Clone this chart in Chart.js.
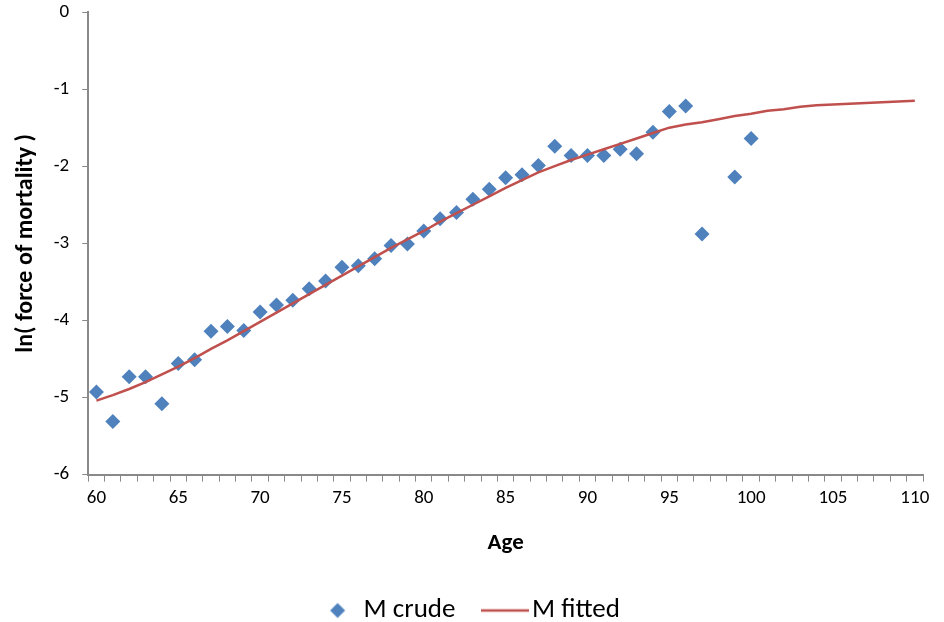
<!DOCTYPE html>
<html><head><meta charset="utf-8">
<script src="https://cdn.jsdelivr.net/npm/chart.js@4"></script>
<style>html,body{margin:0;padding:0;background:#fff}#wrap{width:944px;height:622px;position:relative}</style>
</head><body><div id="wrap"><canvas id="c"></canvas></div>
<script>
const ages = [60,61,62,63,64,65,66,67,68,69,70,71,72,73,74,75,76,77,78,79,80,81,82,83,84,85,86,87,88,89,90,91,92,93,94,95,96,97,98,99,100,101,102,103,104,105,106,107,108,109,110];
const crudeValues = [-4.93,-5.31,-4.73,-4.73,-5.08,-4.56,-4.51,-4.14,-4.08,-4.13,-3.89,-3.80,-3.74,-3.59,-3.49,-3.31,-3.29,-3.20,-3.03,-3.01,-2.84,-2.68,-2.60,-2.43,-2.30,-2.15,-2.11,-1.99,-1.74,-1.86,-1.86,-1.86,-1.78,-1.84,-1.56,-1.29,-1.22,-2.88,null,-2.14,-1.64,null,null,null,null,null,null,null,null,null,null];
const fittedValues = [-5.04,-4.97,-4.89,-4.80,-4.70,-4.60,-4.49,-4.37,-4.26,-4.14,-4.02,-3.90,-3.78,-3.66,-3.54,-3.42,-3.30,-3.18,-3.06,-2.95,-2.84,-2.72,-2.61,-2.50,-2.39,-2.28,-2.18,-2.08,-2.00,-1.92,-1.85,-1.78,-1.71,-1.64,-1.57,-1.50,-1.46,-1.43,-1.39,-1.35,-1.32,-1.28,-1.26,-1.23,-1.21,-1.20,-1.19,-1.18,-1.17,-1.16,-1.15];
const xTickLabels = ['60','65','70','75','80','85','90','95','100','105','110'];
const yTickLabels = ['-6','-5','-4','-3','-2','-1','0'];
const seriesNames = ['M crude','M fitted'];

const BLUE = '#4F81BD', RED = '#C0504D', AXIS = '#898989', TXT = '#000000';
const FONT = 'Carlito, Lato, "Liberation Sans", sans-serif';

const LEG_W = 59;      // legend box width
const IMG_W = 80;      // legend image width
function legendImg(kind){
  const c = document.createElement('canvas');
  c.width = IMG_W; c.height = 18;
  const g = c.getContext('2d');
  const off = IMG_W/2 - LEG_W/2;
  if (kind === 'diamond') {
    g.fillStyle = BLUE;
    const cx = off + LEG_W - 12.5, cy = 9, r = 7.5;
    g.beginPath(); g.moveTo(cx-r,cy); g.lineTo(cx,cy-r); g.lineTo(cx+r,cy); g.lineTo(cx,cy+r); g.closePath(); g.fill();
  } else {
    g.strokeStyle = RED; g.lineWidth = 2.5;
    g.beginPath(); g.moveTo(off + LEG_W - 37.5, 9); g.lineTo(off + LEG_W + 10.5, 9); g.stroke();
  }
  return c;
}
const legendImgs = [legendImg('diamond'), legendImg('line')];

new Chart(document.getElementById('c'), {
  type: 'line',
  data: {
    labels: ages.map(String),
    datasets: [
      { label: seriesNames[0], data: crudeValues,
        pointStyle: 'rectRot', pointRadius: 7.5, pointHoverRadius: 7.5, pointBorderWidth: 0,
        backgroundColor: BLUE, borderColor: BLUE, showLine: false, order: 2 },
      { label: seriesNames[1], data: fittedValues,
        pointRadius: 0, pointHoverRadius: 0, borderColor: RED, backgroundColor: RED,
        borderWidth: 2.5, tension: 0, order: 1 }
    ]
  },
  options: {
    responsive: true, maintainAspectRatio: false, animation: false,
    layout: { padding: { top: 0, right: 21, left: -12, bottom: -12 } },
    plugins: {
      tooltip: { enabled: false },
      legend: {
        position: 'bottom',
        labels: {
          usePointStyle: true, pointStyleWidth: LEG_W, padding: 4,
          font: { family: FONT, size: 27 }, color: TXT,
          generateLabels: () => seriesNames.map((n,i)=>({
            text: n, pointStyle: legendImgs[i], datasetIndex: i, fillStyle: i? RED: BLUE,
            strokeStyle: i? RED: BLUE, lineWidth: 0, hidden: false, fontColor: TXT
          }))
        }
      }
    },
    scales: {
      x: {
        type: 'category', offset: true,
        title: { display: true, text: 'Age', font: { family: FONT, size: 23, weight: 'bold' }, color: TXT, padding: { top: 15, bottom: 36 } },
        ticks: { autoSkip: false, maxRotation: 0, minRotation: 0, color: TXT, font: { family: FONT, size: 19 }, padding: 5,
          callback: function(v){ const l = this.getLabelForValue(v); return xTickLabels.includes(l) ? l : ''; } },
        grid: { offset: true, drawOnChartArea: false, drawTicks: true, tickLength: 7, color: AXIS, tickColor: AXIS, lineWidth: 1 },
        border: { display: true, color: AXIS, width: 2 }
      },
      y: {
        type: 'linear', min: -6, max: 0,
        afterFit: (s) => { s.paddingTop = 12; s.paddingBottom = 12; },
        title: { display: true, text: 'ln( force of mortality )', font: { family: FONT, size: 24, weight: 'bold' }, color: TXT, padding: { top: 24, bottom: 0 } },
        ticks: { stepSize: 1, color: TXT, font: { family: FONT, size: 19 }, padding: 13,
          callback: (v) => yTickLabels.includes(String(v)) ? String(v) : '' },
        grid: { drawOnChartArea: false, drawTicks: true, tickLength: 6, color: AXIS, tickColor: AXIS },
        border: { display: true, color: AXIS, width: 2 }
      }
    }
  }
});
</script></body></html>
